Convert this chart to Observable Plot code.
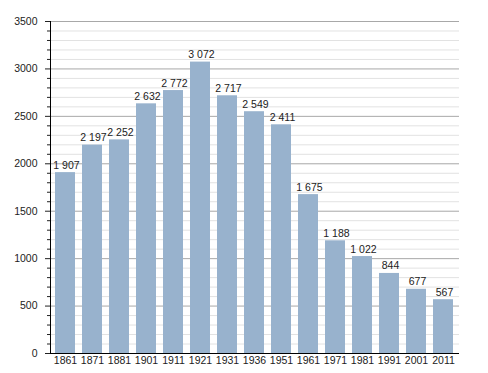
<!DOCTYPE html>
<html>
<head>
<meta charset="utf-8">
<script src="https://cdn.jsdelivr.net/npm/d3@7"></script>
<script src="https://cdn.jsdelivr.net/npm/@observablehq/plot@0.6"></script>
<style>
  html, body { margin: 0; padding: 0; background: #fff; }
  svg { display: block; }
</style>
</head>
<body>
<div id="chart"></div>
<script>
const years = ["1861","1871","1881","1901","1911","1921","1931","1936","1951","1961","1971","1981","1991","2001","2011"];
const population = [1907,2197,2252,2632,2772,3072,2717,2549,2411,1675,1188,1022,844,677,567];
const majorTicks = [0,500,1000,1500,2000,2500,3000,3500];
const minorTicks = d3.range(0, 3501, 100).filter(v => v % 500 !== 0);

const data = years.map((y, i) => ({year: y, pop: population[i]}));
const fmt = d3.formatLocale({thousands: "\u00a0", grouping: [3], decimal: ","}).format(",d");

const chart = Plot.plot({
  width: 488,
  height: 373,
  marginLeft: 50,
  marginRight: 29,
  marginTop: 21,
  marginBottom: 20,
  style: {fontFamily: "'Liberation Sans', Arial, sans-serif", fontSize: "10.5px", color: "#222", background: "#fff"},
  x: {domain: years, range: [50.5, 458], paddingInner: 0.25, paddingOuter: 0, label: null},
  y: {domain: [0, 3500], label: null},
  marks: [
    Plot.ruleY(minorTicks, {stroke: "#e2e2e2", strokeWidth: 1}),
    Plot.ruleY(majorTicks, {stroke: "#a8a8a8", strokeWidth: 1}),
    Plot.barY(data, {x: "year", y: "pop", fill: "#98b2cd"}),
    Plot.text(data, {x: "year", y: "pop", text: d => fmt(d.pop), lineAnchor: "bottom", dy: -4, dx: 1, fill: "#222", fontSize: 10.5}),
    Plot.axisY(minorTicks, {tickSize: 3, tickFormat: () => "", stroke: "#222"}),
    Plot.axisY(majorTicks, {tickSize: 5, tickPadding: 8, tickFormat: d => String(d), stroke: "#222", fill: "#222"}),
    Plot.axisX({tickSize: 0, tickPadding: 3, fill: "#222"}),
    Plot.frame({anchor: "left", stroke: "#000"}),
    Plot.ruleY([0], {stroke: "#000"})
  ]
});
document.getElementById("chart").appendChild(chart);
</script>
</body>
</html>
